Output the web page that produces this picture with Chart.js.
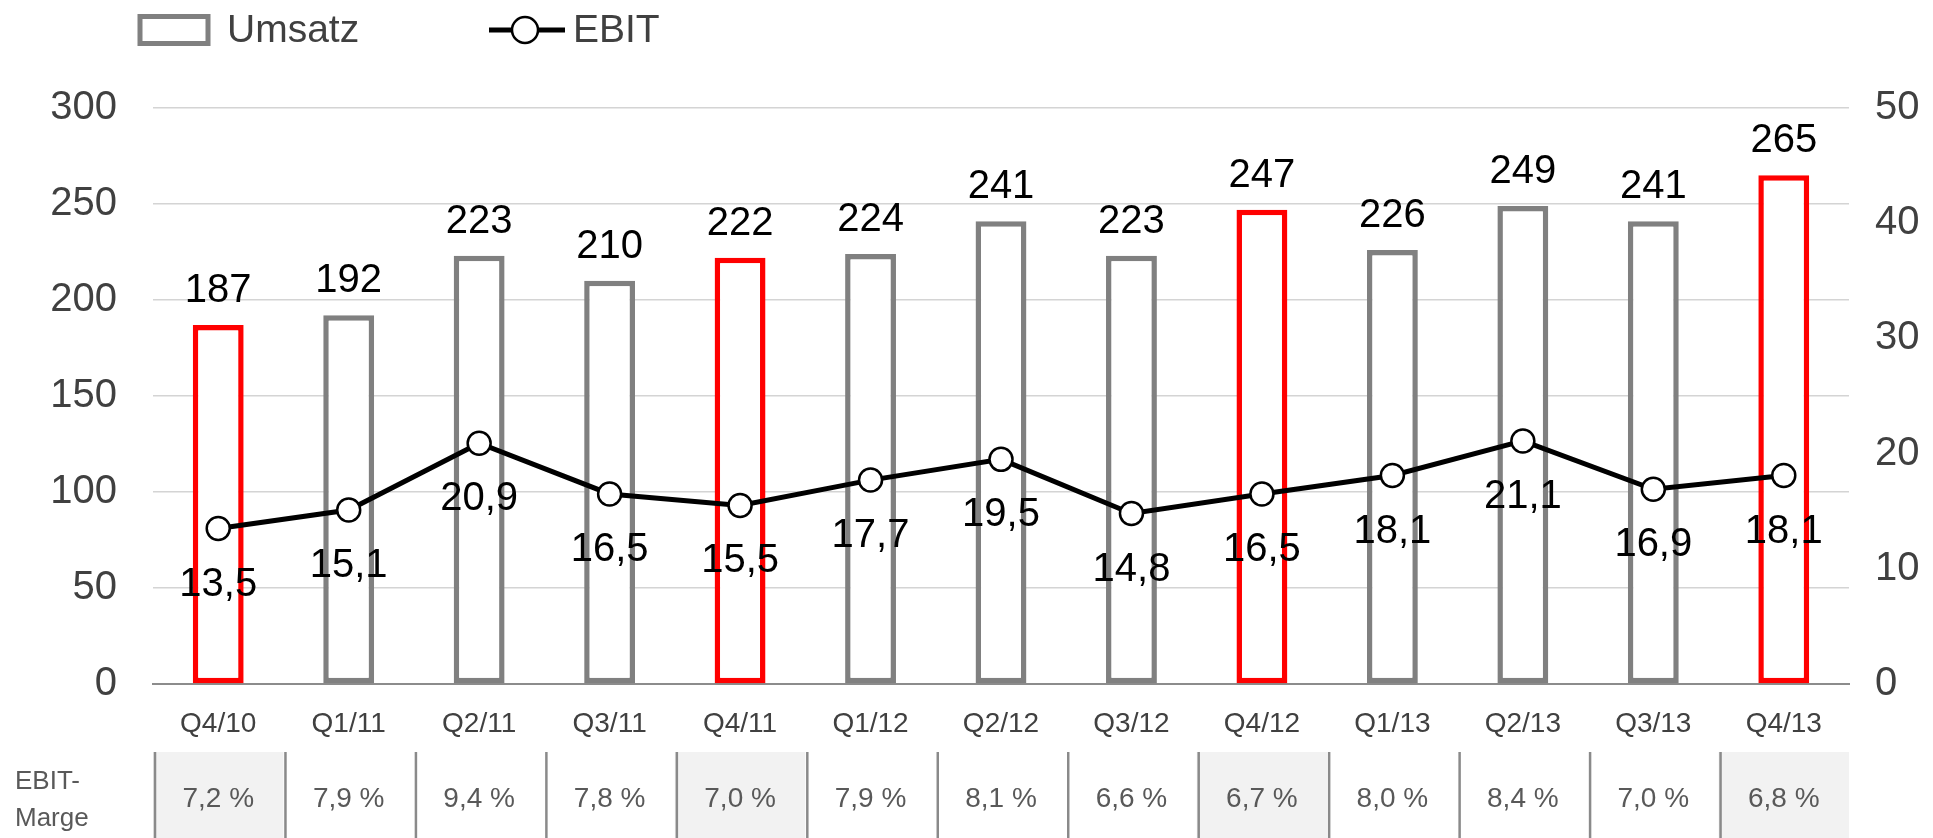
<!DOCTYPE html>
<html>
<head>
<meta charset="utf-8">
<title>Umsatz und EBIT</title>
<script src="https://cdn.jsdelivr.net/npm/chart.js@4.4.0/dist/chart.umd.min.js"></script>
<style>
    html, body { margin: 0; padding: 0; background: #ffffff; }
    #wrap { position: relative; width: 1933px; height: 838px; }
</style>
</head>
<body>
<div id="wrap"><canvas id="umsatzChart"></canvas></div>
<script>
// Chart data
const categories = ['Q4/10', 'Q1/11', 'Q2/11', 'Q3/11', 'Q4/11', 'Q1/12', 'Q2/12', 'Q3/12', 'Q4/12', 'Q1/13', 'Q2/13', 'Q3/13', 'Q4/13'];
const umsatz = [187, 192, 223, 210, 222, 224, 241, 223, 247, 226, 249, 241, 265];
const ebit = [13.5, 15.1, 20.9, 16.5, 15.5, 17.7, 19.5, 14.8, 16.5, 18.1, 21.1, 16.9, 18.1];
const ebitMarge = [7.2, 7.9, 9.4, 7.8, 7.0, 7.9, 8.1, 6.6, 6.7, 8.0, 8.4, 7.0, 6.8];
const leftTicks = [0, 50, 100, 150, 200, 250, 300];
const rightTicks = [0, 10, 20, 30, 40, 50];

const FONT = '"Liberation Sans", Arial, sans-serif';
const GRAY = '#808080';
const RED = '#ff0000';

function isQ4(label) {
    return label.indexOf('Q4') === 0;
}

function deNum(v) {
    return v.toFixed(1).replace('.', ',');
}

// Q4 quarters are highlighted in red
const barBorders = categories.map(function(c) { return isQ4(c) ? RED : GRAY; });

/**
 * Value labels above the bars and below the EBIT points
 */
const valueLabels = {
    id: 'valueLabels',
    afterDatasetsDraw: function(chart) {
        const ctx = chart.ctx;
        ctx.save();
        ctx.fillStyle = '#000000';
        ctx.font = '40px ' + FONT;
        ctx.textAlign = 'center';

        const bars = chart.getDatasetMeta(1).data;
        ctx.textBaseline = 'alphabetic';
        bars.forEach(function(bar, i) {
            ctx.fillText(String(umsatz[i]), bar.x, bar.y - 23);
        });

        const points = chart.getDatasetMeta(0).data;
        ctx.textBaseline = 'middle';
        points.forEach(function(pt, i) {
            ctx.fillText(deNum(ebit[i]), pt.x, pt.y + 56);
        });
        ctx.restore();
    }
};

/**
 * EBIT-Marge row under the x axis
 */
const margeTable = {
    id: 'margeTable',
    afterDraw: function(chart) {
        const ctx = chart.ctx;
        const x = chart.scales.x;
        const area = chart.chartArea;
        const top = area.bottom + 68;
        const bottom = chart.height;
        const step = x.getPixelForValue(1) - x.getPixelForValue(0);

        ctx.save();
        categories.forEach(function(c, i) {
            const cx = x.getPixelForValue(i);
            const left = cx - step / 2;
            if (isQ4(c)) {
                ctx.fillStyle = '#f2f2f2';
                ctx.fillRect(left, top, step, bottom - top);
            }
        });

        ctx.strokeStyle = '#8a8a8a';
        ctx.lineWidth = 2.5;
        categories.forEach(function(c, i) {
            const left = x.getPixelForValue(i) - step / 2 + 2;
            ctx.beginPath();
            ctx.moveTo(left, top);
            ctx.lineTo(left, bottom);
            ctx.stroke();
        });

        ctx.fillStyle = '#595959';
        ctx.font = '28px ' + FONT;
        ctx.textAlign = 'center';
        ctx.textBaseline = 'middle';
        ebitMarge.forEach(function(m, i) {
            ctx.fillText(deNum(m) + ' %', x.getPixelForValue(i), top + 47);
        });

        ctx.textAlign = 'left';
        ctx.font = '26px ' + FONT;
        ctx.fillText('EBIT-', 15, top + 30);
        ctx.fillText('Marge', 15, top + 67);
        ctx.restore();
    }
};

/**
 * Legend drawn by hand to match the original layout
 */
const customLegend = {
    id: 'customLegend',
    afterDraw: function(chart) {
        const ctx = chart.ctx;
        ctx.save();
        // Umsatz box
        ctx.fillStyle = '#ffffff';
        ctx.strokeStyle = GRAY;
        ctx.lineWidth = 5;
        ctx.beginPath();
        ctx.rect(140, 16.5, 68, 27);
        ctx.fill();
        ctx.stroke();

        // EBIT line with marker
        ctx.strokeStyle = '#000000';
        ctx.lineWidth = 5;
        ctx.beginPath();
        ctx.moveTo(489, 30);
        ctx.lineTo(565, 30);
        ctx.stroke();
        ctx.beginPath();
        ctx.arc(525, 30, 13, 0, Math.PI * 2);
        ctx.fillStyle = '#ffffff';
        ctx.fill();
        ctx.lineWidth = 2.5;
        ctx.stroke();

        ctx.fillStyle = '#404040';
        ctx.font = '39px ' + FONT;
        ctx.textAlign = 'left';
        ctx.textBaseline = 'middle';
        ctx.fillText('Umsatz', 227, 31);
        ctx.fillText('EBIT', 573, 31);
        ctx.restore();
    }
};

document.addEventListener('DOMContentLoaded', function() {
    const ctx = document.getElementById('umsatzChart');

    new Chart(ctx, {
        data: {
            labels: categories,
            datasets: [{
                type: 'line',
                label: 'EBIT',
                data: ebit,
                yAxisID: 'y1',
                order: 0,
                borderColor: '#000000',
                borderWidth: 5,
                pointRadius: 11.5,
                pointBackgroundColor: '#ffffff',
                pointBorderColor: '#000000',
                pointBorderWidth: 2.5,
                tension: 0
            }, {
                type: 'bar',
                label: 'Umsatz',
                data: umsatz,
                yAxisID: 'y',
                order: 1,
                backgroundColor: '#ffffff',
                borderColor: barBorders,
                borderWidth: 5.5,
                borderSkipped: false,
                categoryPercentage: 1,
                barPercentage: 0.39
            }]
        },
        options: {
            responsive: true,
            maintainAspectRatio: false,
            animation: false,
            layout: { padding: { top: 108, left: 0, right: 0, bottom: 0 } },
            plugins: {
                legend: { display: false },
                tooltip: { enabled: false },
                title: { display: false }
            },
            scales: {
                x: {
                    grid: { display: false, drawTicks: false },
                    border: { display: true, color: '#8c8c8c', width: 2 },
                    ticks: {
                        color: '#404040',
                        font: { family: FONT, size: 28 },
                        padding: 23,
                        maxRotation: 0
                    },
                    afterFit: function(scale) { scale.height = 154; }
                },
                y: {
                    position: 'left',
                    min: 0,
                    max: leftTicks[leftTicks.length - 1],
                    afterBuildTicks: function(scale) {
                        scale.ticks = leftTicks.map(function(v) { return { value: v }; });
                    },
                    grid: { color: '#d4d4d4', lineWidth: 1.5, drawTicks: false },
                    border: { display: false },
                    ticks: {
                        color: '#404040',
                        font: { family: FONT, size: 40 },
                        padding: 36
                    },
                    afterFit: function(scale) { scale.width = 153; }
                },
                y1: {
                    position: 'right',
                    min: 0,
                    max: rightTicks[rightTicks.length - 1],
                    afterBuildTicks: function(scale) {
                        scale.ticks = rightTicks.map(function(v) { return { value: v }; });
                    },
                    grid: { display: false, drawTicks: false },
                    border: { display: false },
                    ticks: {
                        color: '#404040',
                        font: { family: FONT, size: 40 },
                        padding: 26
                    },
                    afterFit: function(scale) { scale.width = 84; }
                }
            }
        },
        plugins: [valueLabels, margeTable, customLegend]
    });
});
</script>
</body>
</html>
